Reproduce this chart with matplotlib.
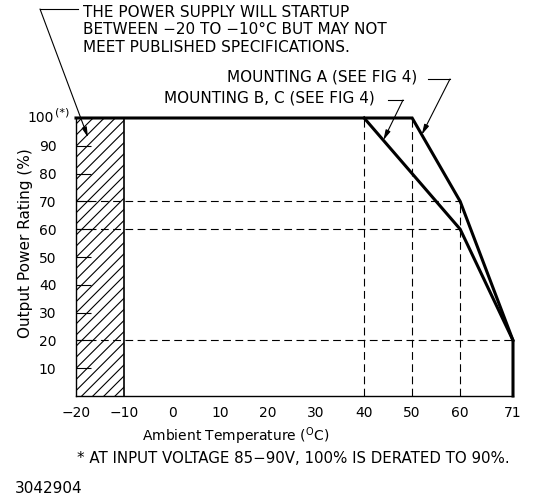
import matplotlib
matplotlib.use("Agg")
import matplotlib.pyplot as plt
from matplotlib.lines import Line2D

plt.rcParams['font.family'] = 'DejaVu Sans'
plt.rcParams['font.size'] = 10
plt.rcParams['mathtext.fontset'] = 'dejavusans'
plt.rcParams['hatch.linewidth'] = 0.8

# derating curves
temp_a = [-20, 50, 60, 71, 71]
rating_a = [100, 100, 70, 20, 0]
temp_bc = [40, 60, 71]
rating_bc = [100, 60, 20]

# dashed guide lines: (level, end)
h_guides = [(70, 60), (60, 60), (20, 71)]
v_guides = [(40, 100), (50, 100), (60, 70)]

startup_zone = [-20, -10]
x_ticks = [-20, -10, 0, 10, 20, 30, 40, 50, 60, 71]
x_minor = [0, 10, 20, 30, 40, 50, 60]
y_ticks = [10, 20, 30, 40, 50, 60, 70, 80, 90]

W, H = 535, 498
fig = plt.figure(figsize=(W / 100, H / 100), dpi=100)
ax = fig.add_axes([76 / W, 1 - 396 / H, 437 / W, 278 / H])
ax.set_xlim(-20, 71)
ax.set_ylim(0, 100)

for s in ['top', 'right']:
    ax.spines[s].set_visible(False)
ax.spines['left'].set_linewidth(1.0)
ax.spines['bottom'].set_linewidth(1.0)

# hatched start-up region
ax.fill_between(startup_zone, 0, 100, facecolor='none', edgecolor='black',
                hatch='///', linewidth=0)
ax.plot([startup_zone[1], startup_zone[1]], [0, 100], color='black', lw=1.2)

dash = (0, (7, 4))
for lvl, end in h_guides:
    ax.plot([-20, end], [lvl, lvl], color='black', lw=0.8, linestyle=dash)
for t, top in v_guides:
    ax.plot([t, t], [0, top], color='black', lw=0.8, linestyle=dash)

ax.plot(temp_a, rating_a, color='black', lw=2.2, clip_on=False,
        solid_joinstyle='miter')
ax.plot(temp_bc, rating_bc, color='black', lw=2.2, clip_on=False)

ax.set_xticks(x_ticks)
ax.set_xticklabels([str(v).replace('-', '\u2212') for v in x_ticks])
ax.tick_params(axis='x', which='major', length=0, pad=7)
ax.set_xticks(x_minor, minor=True)
ax.tick_params(axis='x', which='minor', direction='in', length=9, width=0.8)
ax.set_yticks(y_ticks)
ax.tick_params(axis='y', which='major', direction='in', length=11, width=0.8, pad=14)

ax.annotate('100', xy=(-20, 100), xytext=(-16, 0), textcoords='offset points',
            ha='right', va='center', annotation_clip=False)
ax.annotate('(*)', xy=(-20, 100), xytext=(-15, 4), textcoords='offset points',
            ha='left', va='center', fontsize=8, annotation_clip=False)

ax.set_xlabel('Ambient Temperature ($^{\\mathrm{O}}$C)')
ax.xaxis.set_label_coords((236 - 76) / 437, -29 / 278)
ax.set_ylabel('Output Power Rating (%)', fontsize=11)
ax.yaxis.set_label_coords(-43 / 437, (396 - 243) / 278)

# notes and leaders
fig.text(83 / W, 1 - 5 / H,
         'THE POWER SUPPLY WILL STARTUP\nBETWEEN \u221220 TO \u221210\u00b0C BUT MAY NOT\nMEET PUBLISHED SPECIFICATIONS.',
         ha='left', va='top', linespacing=1.2, fontsize=11)
fig.add_artist(Line2D([40 / W, 78 / W], [1 - 9 / H, 1 - 9 / H], color='black', lw=0.8))
ax.annotate('', xy=(-17.5, 93), xytext=(40 / W, 1 - 9 / H), textcoords='figure fraction',
            arrowprops=dict(arrowstyle='-|>,head_length=0.6,head_width=0.15',
                            color='black', lw=0.8, shrinkA=0, shrinkB=0))

fig.text(417 / W, 1 - 77 / H, 'MOUNTING A (SEE FIG 4)', ha='right', va='center', fontsize=11)
fig.add_artist(Line2D([428 / W, 450 / W], [1 - 79 / H, 1 - 79 / H], color='black', lw=0.8))
ax.annotate('', xy=(52, 94), xytext=(450 / W, 1 - 79 / H), textcoords='figure fraction',
            arrowprops=dict(arrowstyle='-|>,head_length=0.6,head_width=0.15',
                            color='black', lw=0.8, shrinkA=0, shrinkB=0))

fig.text(375 / W, 1 - 98 / H, 'MOUNTING B, C (SEE FIG 4)', ha='right', va='center', fontsize=11)
fig.add_artist(Line2D([388 / W, 403 / W], [1 - 100 / H, 1 - 100 / H], color='black', lw=0.8))
ax.annotate('', xy=(44, 92), xytext=(403 / W, 1 - 100 / H), textcoords='figure fraction',
            arrowprops=dict(arrowstyle='-|>,head_length=0.6,head_width=0.15',
                            color='black', lw=0.8, shrinkA=0, shrinkB=0))

fig.text(77 / W, 1 - 458 / H,
         '* AT INPUT VOLTAGE 85\u221290V, 100% IS DERATED TO 90%.',
         ha='left', va='center', fontsize=10.8)
fig.text(15 / W, 1 - 488 / H, '3042904', ha='left', va='center', fontsize=11)

fig.savefig('out.png', dpi=100)
